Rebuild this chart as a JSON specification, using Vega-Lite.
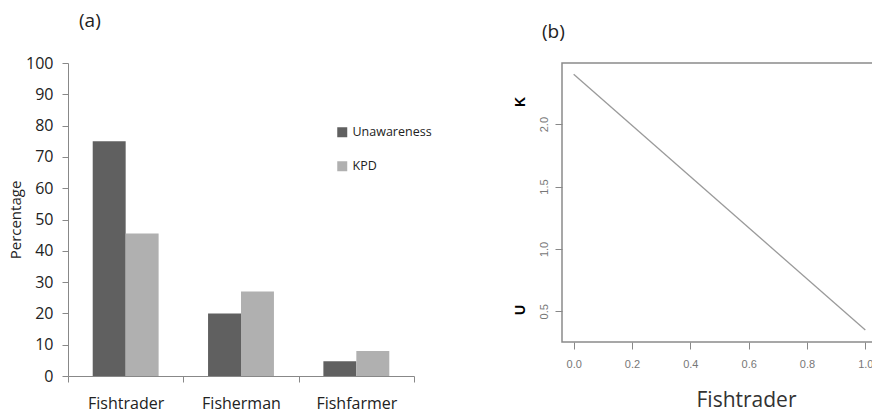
{
  "$schema": "https://vega.github.io/schema/vega-lite/v6.json",
  "autosize": {"type": "pad"},
  "padding": {"left": 8, "top": 12, "right": -6, "bottom": 3},
  "spacing": 148,
  "bounds": "flush",
  "config": {"font": "Open Sans", "axis": {"grid": false}},
  "datasets": {
    "bars": [
      {"group": "Fishtrader", "series": "Unawareness", "value": 75},
      {"group": "Fishtrader", "series": "KPD", "value": 45.5},
      {"group": "Fisherman", "series": "Unawareness", "value": 20},
      {"group": "Fisherman", "series": "KPD", "value": 27},
      {"group": "Fishfarmer", "series": "Unawareness", "value": 4.7},
      {"group": "Fishfarmer", "series": "KPD", "value": 8}
    ],
    "curve": [
      {"p": 0, "k": 2.40},
      {"p": 1, "k": 0.35}
    ],
    "labels": [
      {"p": -0.181, "k": 2.177, "label": "K"},
      {"p": -0.181, "k": 0.51, "label": "U"}
    ]
  },
  "hconcat": [
    {
      "width": 346,
      "height": 313,
      "title": {"text": "(a)", "anchor": "start", "frame": "group", "dx": 11, "offset": 24, "fontSize": 19, "fontWeight": "normal", "font": "Open Sans", "color": "#222"},
      "view": {"stroke": null},
      "data": {"name": "bars"},
      "mark": {"type": "bar"},
      "encoding": {
        "x": {
          "field": "group", "type": "nominal",
          "sort": ["Fishtrader", "Fisherman", "Fishfarmer"],
          "scale": {"paddingInner": 0, "paddingOuter": 0},
          "axis": {"title": null, "labelAngle": 0, "tickBand": "extent", "domainColor": "#888", "tickColor": "#888", "tickSize": 6, "labelFontSize": 16, "labelColor": "#222", "labelPadding": 13}
        },
        "xOffset": {
          "field": "series", "type": "nominal",
          "sort": ["Unawareness", "KPD"],
          "scale": {"paddingInner": 0, "paddingOuter": 0.75}
        },
        "y": {
          "field": "value", "type": "quantitative",
          "scale": {"domain": [0, 100], "nice": false},
          "axis": {"title": "Percentage", "values": [0, 10, 20, 30, 40, 50, 60, 70, 80, 90, 100], "domainColor": "#888", "tickColor": "#888", "tickSize": 6, "labelFontSize": 16, "labelColor": "#222", "labelPadding": 9, "titleFontSize": 15, "titleFontWeight": "normal", "titleColor": "#222", "titlePadding": 2}
        },
        "color": {
          "field": "series", "type": "nominal",
          "scale": {"domain": ["Unawareness", "KPD"], "range": ["#606060", "#b0b0b0"]},
          "legend": {"title": null, "orient": "none", "legendX": 268, "legendY": 63, "symbolType": "square", "symbolSize": 100, "symbolStrokeWidth": 0, "labelFontSize": 12.5, "labelColor": "#222", "rowPadding": 21, "labelOffset": 4}
        }
      }
    },
    {
      "width": 315,
      "height": 279,
      "title": {"text": "(b)", "anchor": "start", "frame": "group", "dx": -20, "offset": 21, "fontSize": 19, "fontWeight": "normal", "font": "Open Sans", "color": "#222"},
      "view": {"stroke": "#8a8a8a", "strokeWidth": 1.5},
      "layer": [
        {
          "data": {"name": "curve"},
          "mark": {"type": "line", "color": "#9a9a9a", "strokeWidth": 1.3},
          "encoding": {
            "x": {
              "field": "p", "type": "quantitative",
              "scale": {"domain": [-0.04, 1.04], "nice": false, "zero": false},
              "axis": {"title": "Fishtrader", "values": [0, 0.2, 0.4, 0.6, 0.8, 1.0], "format": ".1f", "domain": false, "tickColor": "#888", "tickSize": 7, "labelFont": "Liberation Sans", "labelFontSize": 11, "labelColor": "#777", "labelPadding": 9, "titleFont": "Open Sans", "titleFontSize": 21, "titleFontWeight": "normal", "titleColor": "#333", "titlePadding": 20, "titleX": 184}
            },
            "y": {
              "field": "k", "type": "quantitative",
              "scale": {"domain": [0.254, 2.49], "nice": false, "zero": false},
              "axis": {"title": null, "values": [0.5, 1.0, 1.5, 2.0], "format": ".1f", "domain": false, "tickColor": "#888", "tickSize": 7, "labelAngle": -90, "labelFont": "Liberation Sans", "labelFontSize": 11, "labelColor": "#777", "labelPadding": 6}
            }
          }
        },
        {
          "data": {"name": "labels"},
          "mark": {"type": "text", "font": "Liberation Sans", "fontWeight": "bold", "fontSize": 14, "angle": 270, "color": "#000", "align": "center", "baseline": "middle"},
          "encoding": {
            "x": {"field": "p", "type": "quantitative"},
            "y": {"field": "k", "type": "quantitative"},
            "text": {"field": "label"}
          }
        }
      ]
    }
  ]
}
